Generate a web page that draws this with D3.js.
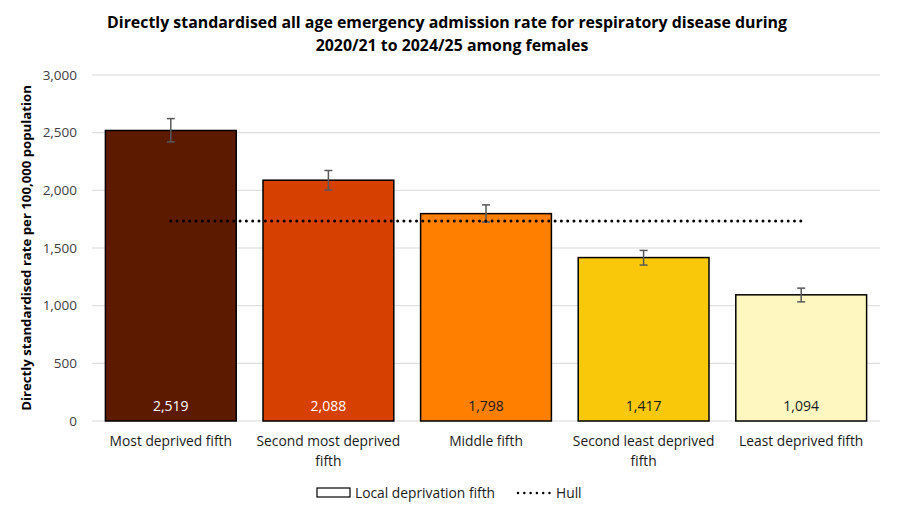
<!DOCTYPE html>
<html>
<head>
<meta charset="utf-8">
<script src="https://cdn.jsdelivr.net/npm/d3@7"></script>
<style>
body { margin:0; background:#fff; }
text { font-family: "Open Sans", "Noto Sans", sans-serif; }
</style>
</head>
<body>
<script>
var width = 920,
	height = 515,
	margin = {top:75, right:40, bottom:94, left:92};

var categories = ["Most deprived fifth","Second most deprived fifth","Middle fifth","Second least deprived fifth","Least deprived fifth"];
var rates = [2519, 2088, 1798, 1417, 1094];
var lowerCI = [2420, 2003, 1725, 1352, 1033];
var upperCI = [2622, 2172, 1874, 1479, 1152];
var hullRate = 1735;
var colours = ["#5c1a00","#d64000","#ff8000","#f9c80b","#fff7c0"];
var labelColours = ["#ffffff","#ffffff","#1a1a1a","#1a1a1a","#1a1a1a"];
var yTicks = [0,500,1000,1500,2000,2500,3000];

var svg = d3.select("body").append("svg").attr("width",width).attr("height",height);

var x = d3.scaleBand().domain(categories).range([margin.left, width-margin.right]).paddingInner(0.17).paddingOuter(0.085);
var y = d3.scaleLinear().domain([0,3000]).range([height-margin.bottom, margin.top]);

// gridlines
svg.append("g").selectAll("line").data(yTicks).enter().append("line")
	.attr("x1",margin.left).attr("x2",width-margin.right)
	.attr("y1",d=>y(d)).attr("y2",d=>y(d))
	.attr("stroke","#d9d9d9").attr("stroke-width",1)

// y axis labels
svg.append("g").selectAll("text").data(yTicks).enter().append("text")
	.attr("x",margin.left-15).attr("y",d=>y(d)).attr("dy","0.35em")
	.attr("text-anchor","end").attr("font-size",13.5).attr("fill","#404040")
	.text(d=>d3.format(",")(d))

svg.append("text")
	.attr("transform","translate(31,"+((y(0)+y(3000))/2)+") rotate(-90)")
	.attr("text-anchor","middle").attr("font-size",13.2).attr("font-weight","bold").attr("fill","#000")
	.text("Directly standardised rate per 100,000 population")

// bars
svg.append("g").selectAll("rect").data(categories).enter().append("rect")
	.attr("x",d=>x(d)).attr("width",x.bandwidth())
	.attr("y",(d,i)=>y(rates[i])).attr("height",(d,i)=>y(0)-y(rates[i]))
	.attr("fill",(d,i)=>colours[i]).attr("stroke","#000").attr("stroke-width",1.5)

// error bars
var eb = svg.append("g").attr("stroke","#595959").attr("stroke-width",1.5)
categories.forEach(function(c,i){
	var cx = x(c)+x.bandwidth()/2;
	eb.append("line").attr("x1",cx).attr("x2",cx).attr("y1",y(lowerCI[i])).attr("y2",y(upperCI[i]))
	eb.append("line").attr("x1",cx-4).attr("x2",cx+4).attr("y1",y(lowerCI[i])).attr("y2",y(lowerCI[i]))
	eb.append("line").attr("x1",cx-4).attr("x2",cx+4).attr("y1",y(upperCI[i])).attr("y2",y(upperCI[i]))
})

// bar value labels
svg.append("g").selectAll("text").data(categories).enter().append("text")
	.attr("x",d=>x(d)+x.bandwidth()/2).attr("y",y(0)-10)
	.attr("text-anchor","middle").attr("font-size",14)
	.attr("fill",(d,i)=>labelColours[i])
	.text((d,i)=>d3.format(",")(rates[i]))

// Hull line
svg.append("line")
	.attr("x1",x(categories[0])+x.bandwidth()/2).attr("x2",x(categories[4])+x.bandwidth()/2)
	.attr("y1",y(hullRate)).attr("y2",y(hullRate))
	.attr("stroke","#000").attr("stroke-width",3).attr("stroke-dasharray","0 6.3").attr("stroke-linecap","round")

// x labels (wrapped)
var wrapLines = {
	"Most deprived fifth":["Most deprived fifth"],
	"Second most deprived fifth":["Second most deprived","fifth"],
	"Middle fifth":["Middle fifth"],
	"Second least deprived fifth":["Second least deprived","fifth"],
	"Least deprived fifth":["Least deprived fifth"]
};
var xl = svg.append("g").selectAll("text").data(categories).enter().append("text")
	.attr("x",d=>x(d)+x.bandwidth()/2).attr("y",y(0)+25)
	.attr("text-anchor","middle").attr("font-size",13.8).attr("fill","#1a1a1a")
xl.each(function(d){
	var t = d3.select(this);
	wrapLines[d].forEach(function(l,j){
		t.append("tspan").attr("x",x(d)+x.bandwidth()/2).attr("dy",j?20:0).text(l)
	})
})

// title
var title = svg.append("text").attr("text-anchor","middle")
	.attr("font-size",15.9).attr("font-weight","bold").attr("fill","#000")
title.append("tspan").attr("x",447).attr("y",28).text("Directly standardised all age emergency admission rate for respiratory disease during")
title.append("tspan").attr("x",452).attr("y",51).text("2020/21 to 2024/25 among females")

// legend
var lg = svg.append("g")
lg.append("rect").attr("x",317).attr("y",488).attr("width",33).attr("height",9)
	.attr("fill","#fff").attr("stroke","#000").attr("stroke-width",1.2)
lg.append("text").attr("x",355).attr("y",493).attr("dy","0.35em").attr("font-size",13.8).attr("fill","#1a1a1a").text("Local deprivation fifth")
lg.append("line").attr("x1",518).attr("x2",550).attr("y1",493).attr("y2",493)
	.attr("stroke","#000").attr("stroke-width",2.5).attr("stroke-dasharray","0 6.3").attr("stroke-linecap","round")
lg.append("text").attr("x",556).attr("y",493).attr("dy","0.35em").attr("font-size",13.8).attr("fill","#1a1a1a").text("Hull")
</script>
</body>
</html>
